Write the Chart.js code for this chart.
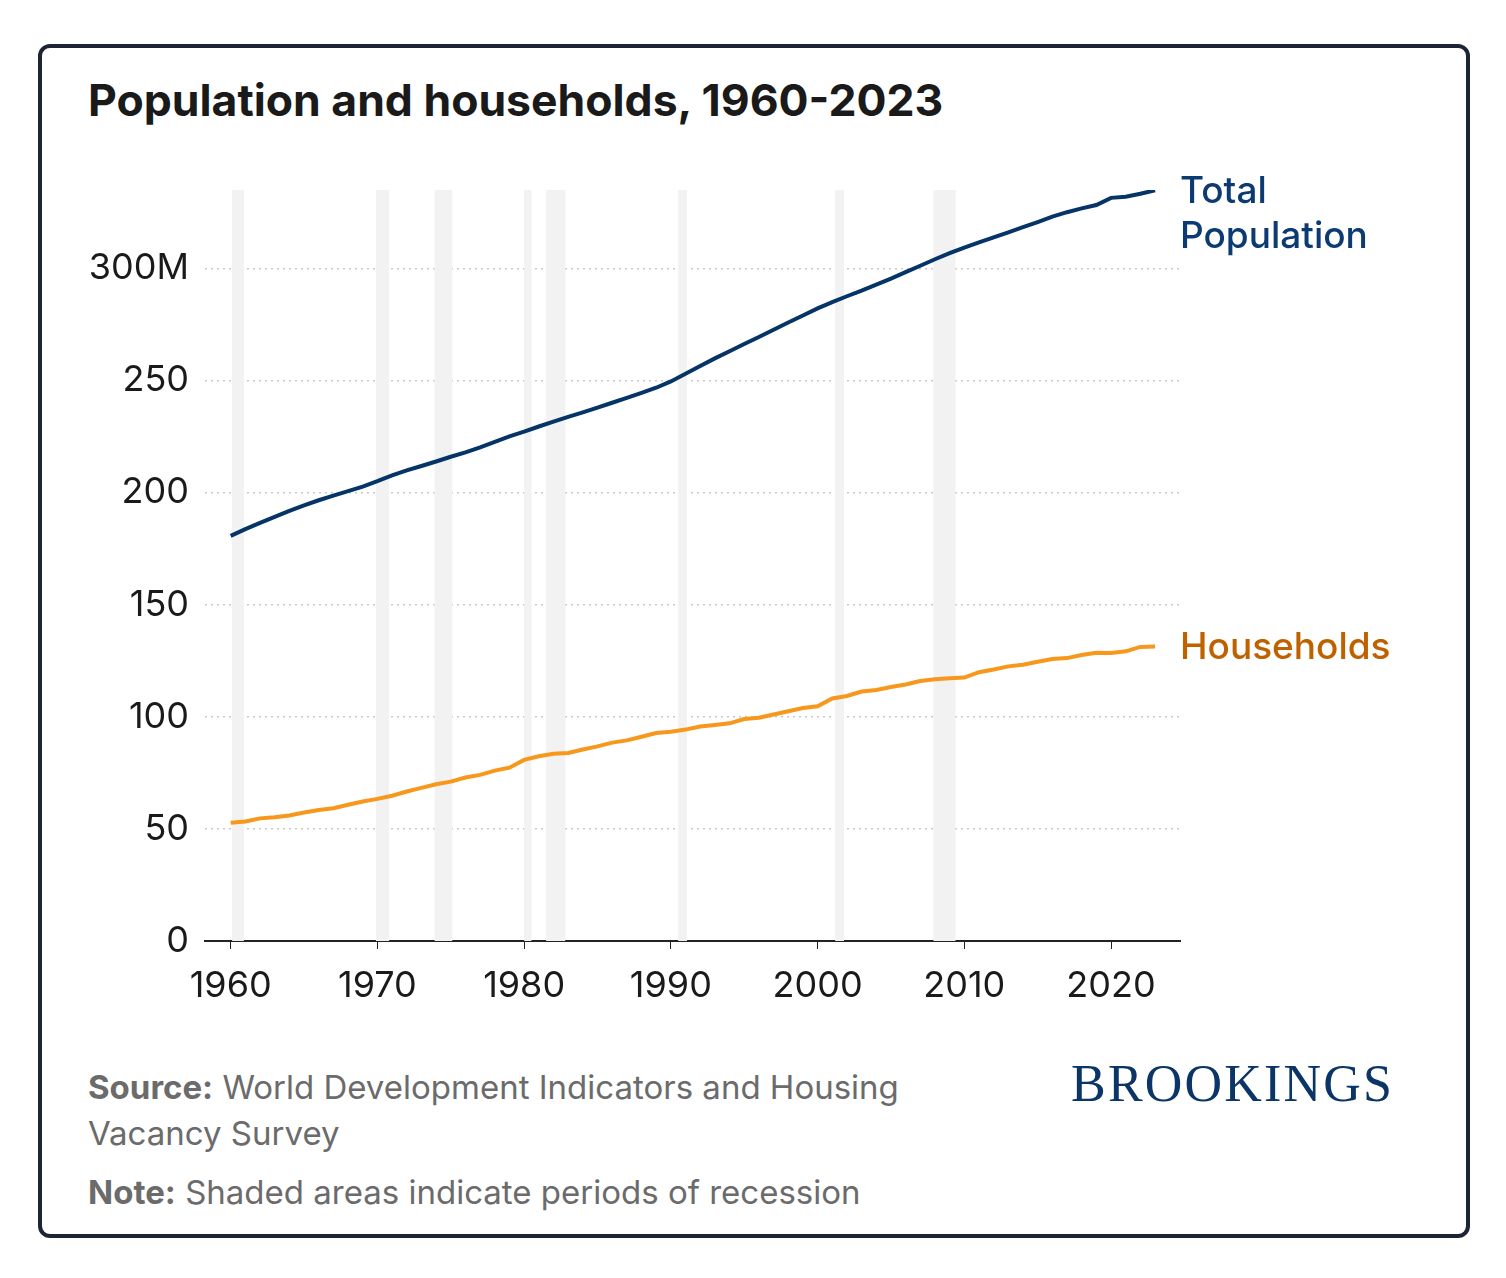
<!DOCTYPE html>
<html><head><meta charset="utf-8">
<script src="https://cdn.jsdelivr.net/npm/chart.js@4"></script>
<style>
body{margin:0;background:#fff;font-family:Inter,sans-serif;}
#card{position:absolute;left:38px;top:44px;width:1424px;height:1186px;border:4px solid #1c2536;border-radius:12px;}
#title{position:absolute;left:88px;top:73px;font-size:44.5px;font-weight:700;color:#1a1a1a;}
#cw{position:absolute;left:0;top:0;width:1506px;height:1040px;}
.foot{position:absolute;left:88px;font-size:33px;color:#6b6b6b;line-height:46px;}
.foot b{color:#6b6b6b;}
#brk{position:absolute;left:1071px;top:1054px;font-family:"Liberation Serif",serif;font-size:52px;color:#0b3566;letter-spacing:2.2px;}
</style></head><body>
<div id="card"></div>
<div id="title">Population and households, 1960-2023</div>
<div id="cw"><canvas id="c" width="1506" height="1040"></canvas></div>
<div class="foot" style="top:1064px;width:840px"><b>Source:</b> World Development Indicators and Housing Vacancy Survey</div>
<div class="foot" style="top:1169px"><b>Note:</b> Shaded areas indicate periods of recession</div>
<div id="brk">BROOKINGS</div>
<script>
const years=[];for(let y=1960;y<=2023;y++)years.push(y);
const population=[180.7,183.7,186.5,189.2,191.9,194.3,196.6,198.7,200.7,202.7,205.1,207.7,209.9,211.9,213.9,216.0,218.0,220.2,222.6,225.1,227.2,229.5,231.7,233.8,235.8,237.9,240.1,242.3,244.5,246.8,249.6,253.0,256.5,259.9,263.1,266.3,269.4,272.7,275.9,279.0,282.2,285.0,287.6,290.1,292.8,295.5,298.4,301.2,304.1,306.8,309.3,311.6,313.9,316.1,318.4,320.7,323.1,325.1,326.8,328.3,331.5,332.0,333.3,334.9];
const households=[52.8,53.3,54.7,55.2,56.0,57.3,58.4,59.2,60.8,62.2,63.4,64.8,66.7,68.3,69.9,71.1,72.9,74.1,76.0,77.3,80.8,82.4,83.5,83.9,85.4,86.8,88.5,89.5,91.1,92.8,93.3,94.3,95.7,96.4,97.1,99.0,99.6,101.0,102.5,103.9,104.7,108.2,109.3,111.3,112.0,113.3,114.4,116.0,116.8,117.2,117.5,119.9,121.1,122.5,123.2,124.6,125.8,126.2,127.6,128.6,128.5,129.2,131.2,131.4];
const recStart=[1960.1,1969.9,1973.9,1980.0,1981.5,1990.5,2001.2,2007.9];
const recEnd=[1960.9,1970.8,1975.1,1980.5,1982.8,1991.1,2001.8,2009.4];
const xTicks=[1960,1970,1980,1990,2000,2010,2020];
const yTicks=[0,50,100,150,200,250,300];
const navy='#053466', orange='#f7981d';
const shade={id:'shade',beforeDatasetsDraw(ch){const {ctx,chartArea:a,scales:{x}}=ch;ctx.save();ctx.fillStyle='#f2f2f2';
recStart.forEach((s,i)=>{const l=x.getPixelForValue(s),r=x.getPixelForValue(recEnd[i]);ctx.fillRect(l,a.top,r-l,a.bottom-a.top);});ctx.restore();}};
const labels={id:'labels',afterDraw(ch){const {ctx}=ch;ctx.save();ctx.font='500 37px Inter';ctx.textBaseline='middle';
ctx.fillStyle='#0b3b72';ctx.fillText('Total',1180,192);ctx.fillText('Population',1180,237);
ctx.fillStyle='#c06100';ctx.fillText('Households',1180,648);ctx.restore();}};
new Chart(document.getElementById('c'),{type:'line',
data:{datasets:[
{data:years.map((y,i)=>({x:y,y:population[i]})),borderColor:navy,borderWidth:4,pointRadius:0,tension:0},
{data:years.map((y,i)=>({x:y,y:households[i]})),borderColor:orange,borderWidth:4,pointRadius:0,tension:0}]},
options:{responsive:false,animation:false,events:[],
layout:{padding:{left:0,right:326,top:190,bottom:0}},
plugins:{legend:{display:false},tooltip:{enabled:false}},
scales:{
x:{type:'linear',min:1958.25,max:2024.7,afterBuildTicks:s=>{s.ticks=xTicks.map(v=>({value:v}));},
 afterFit:s=>{s.height=99;},
 grid:{display:true,drawOnChartArea:false,drawTicks:true,tickLength:8,color:'#222'},
 border:{display:true,color:'#222',width:2},
 ticks:{color:'#1a1a1a',font:{family:'Inter',size:36},padding:16,maxRotation:0,callback:v=>String(v)}},
y:{min:0,max:335,afterBuildTicks:s=>{s.ticks=yTicks.map(v=>({value:v}));},
 afterFit:s=>{s.width=205;},
 grid:{color:'#c8c8c8',lineWidth:1.5,drawTicks:false,borderDash:[2,4]},
 border:{display:false,dash:[2,4]},
 ticks:{color:'#1a1a1a',font:{family:'Inter',size:36},padding:16,callback:v=>v===300?'300M':String(v)}}}},
plugins:[shade,labels]});
</script></body></html>
